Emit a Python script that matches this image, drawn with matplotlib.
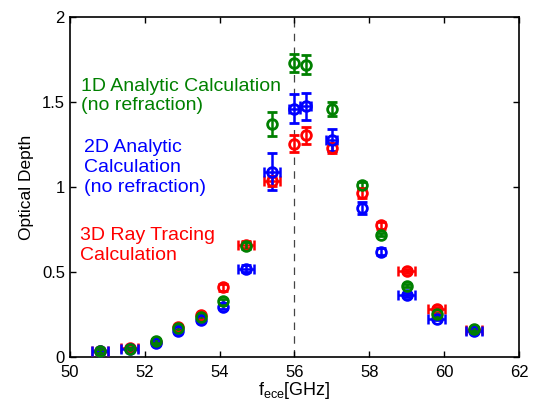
import matplotlib.pyplot as plt
import numpy as np

plt.rcParams['font.family'] = ['Liberation Sans', 'DejaVu Sans']

# frequencies of the channels, GHz
freq = np.array([50.8, 51.6, 52.3, 52.9, 53.5, 54.1, 54.7, 55.4, 56.0, 56.3, 57.0, 57.8, 58.3, 59.0, 59.8, 60.8])

# 1D analytic (green)
od_1d = np.array([0.035, 0.045, 0.095, 0.17, 0.235, 0.33, 0.655, 1.37, 1.73, 1.72, 1.46, 1.01, 0.72, 0.42, 0.25, 0.165])
err_1d = np.array([0.01, 0.01, 0.01, 0.01, 0.01, 0.01, 0.02, 0.07, 0.055, 0.055, 0.04, 0.02, 0.01, 0.01, 0.01, 0.01])

# 2D analytic (blue)
od_2d = np.array([0.035, 0.045, 0.08, 0.15, 0.215, 0.295, 0.52, 1.09, 1.46, 1.475, 1.275, 0.875, 0.62, 0.365, 0.225, 0.15])
err_2d = np.array([0.01, 0.01, 0.01, 0.01, 0.01, 0.01, 0.02, 0.11, 0.085, 0.08, 0.065, 0.035, 0.02, 0.01, 0.01, 0.01])
xerr_2d = np.array([0.22, 0.22, 0, 0, 0, 0, 0.22, 0.22, 0.15, 0.15, 0.15, 0, 0, 0.22, 0.22, 0.22])

# 3D ray tracing (red)
od_3d = np.array([0.035, 0.05, 0.09, 0.175, 0.245, 0.41, 0.66, 1.035, 1.255, 1.305, 1.23, 0.965, 0.775, 0.505, 0.285, 0.16])
err_3d = np.array([0.01, 0.01, 0.01, 0.01, 0.01, 0.02, 0.02, 0.03, 0.05, 0.05, 0.03, 0.03, 0.02, 0.01, 0.01, 0.01])
xerr_3d = np.array([0.22, 0.22, 0, 0, 0, 0, 0.22, 0.22, 0, 0, 0, 0, 0, 0.22, 0.22, 0.22])

red = '#ff0000'
blue = '#0000ff'
green = '#008000'

fig = plt.figure(figsize=(5.37, 4.12), dpi=100)
ax = fig.add_axes([0.130, 0.1335, 0.8365, 0.8253])

def draw(vals, yerr, xerr, color):
    ax.errorbar(freq, vals, yerr=yerr, fmt='o', color=color, mfc='none', mec=color,
                markersize=7, mew=2, elinewidth=1.8, capsize=3.5, capthick=1.8, zorder=3)
    if xerr is not None:
        m = xerr > 0
        ax.errorbar(freq[m], vals[m], xerr=xerr[m], fmt='none', ecolor=color,
                    elinewidth=1.8, capsize=3.5, capthick=1.8, zorder=3)

draw(od_3d, err_3d, xerr_3d, red)
draw(od_2d, err_2d, xerr_2d, blue)
draw(od_1d, err_1d, None, green)

ax.axvline(56, color='#444444', linestyle=(0, (6, 5)), linewidth=0.9, zorder=1)

# coloured labels instead of a legend
ax.text(50.3, 1.535, '1D Analytic Calculation\n(no refraction)', color=green, fontsize=14,
        va='center', ha='left', linespacing=1.22)
ax.text(50.38, 1.115, '2D Analytic\nCalculation\n(no refraction)', color=blue, fontsize=14,
        va='center', ha='left', linespacing=1.22)
ax.text(50.28, 0.655, '3D Ray Tracing\nCalculation', color=red, fontsize=14,
        va='center', ha='left', linespacing=1.22)

ax.set_xlim(50, 62)
ax.set_ylim(0, 2)
ax.set_xticks(np.arange(50, 63, 2))
ax.set_yticks([0, 0.5, 1, 1.5, 2])
ax.set_yticklabels(['0', '0.5', '1', '1.5', '2'])
ax.tick_params(direction='in', top=True, right=True, labelsize=12, length=4, width=1)
ax.tick_params(axis='x', pad=6)
for s in ax.spines.values():
    s.set_linewidth(1.2)

ax.set_xlabel(r'$\mathregular{f_{ece}[GHz]}$', fontsize=13, labelpad=0)
ax.set_ylabel('Optical Depth', fontsize=12.5, labelpad=6)

fig.savefig('out.png', dpi=100)
